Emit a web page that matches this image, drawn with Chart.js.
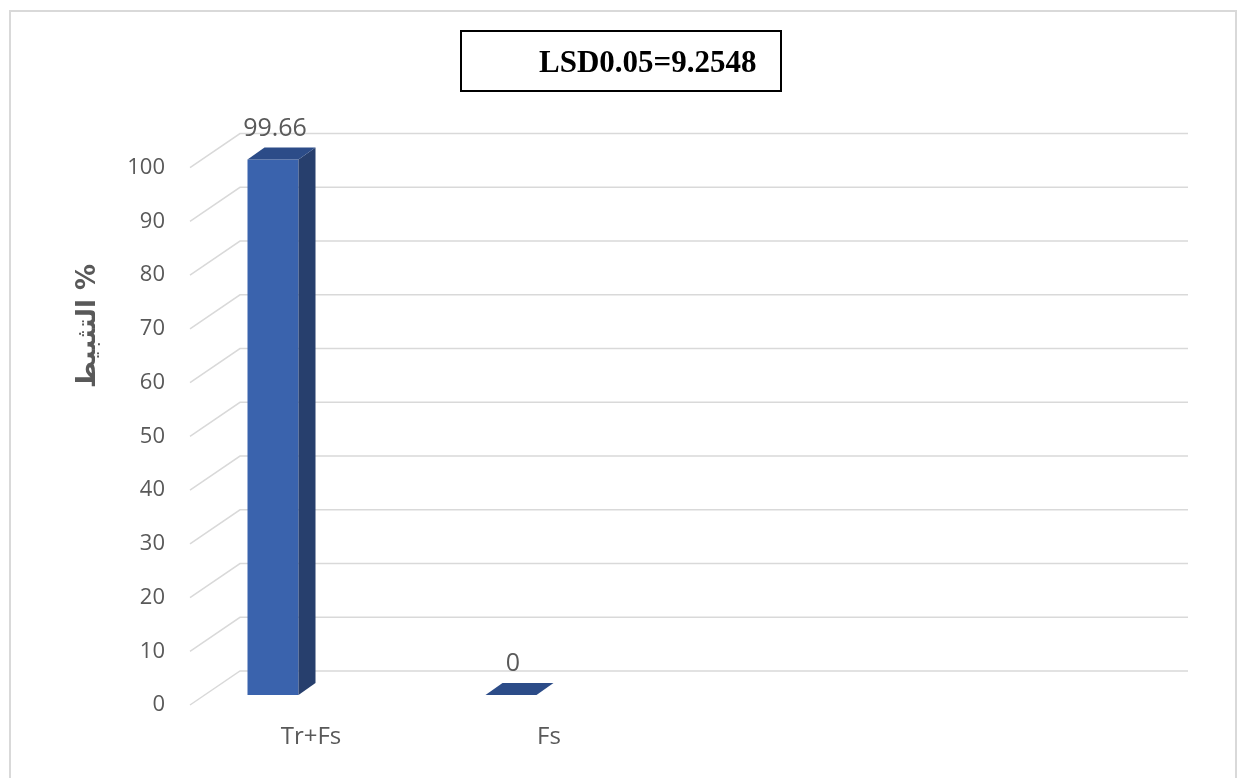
<!DOCTYPE html>
<html>
<head>
<meta charset="utf-8">
<script src="https://cdn.jsdelivr.net/npm/chart.js@4.4.1/dist/chart.umd.min.js"></script>
<style>
    html, body { margin: 0; padding: 0; background: #ffffff; }
    canvas { display: block; }
</style>
</head>
<body>
<canvas id="inhibitionChart" width="1239" height="778"></canvas>
<script>
// values
const categories = ['Tr+Fs', 'Fs', '', ''];
const inhibition = [99.66, 0, null, null];
const yTicks = [0, 10, 20, 30, 40, 50, 60, 70, 80, 90, 100];
const yTitle = 'التثبيط %';
const lsdText = 'LSD0.05=9.2548';

class InhibitionChart {

    static config = {
        textColor: '#595959',
        gridColor: '#d9d9d9',
        font: "'Open Sans', sans-serif",
        bar: {
            front: '#3a63ad',
            side: '#273f6d',
            top: '#2c4c88'
        },
        // 3D depth of the bars and of the wall behind them
        barDepth: { dx: 17, dy: 12 },
        wall: { frontX: 36, backX: 86, frontDy: 10, backDy: -24, rightX: 82 },
        // y labels sit a little inside the floor, past the axis box
        yLabelOverhang: 12
    };

    static init() {
        Chart.defaults.font.family = this.config.font;
        const canvas = document.getElementById('inhibitionChart');
        if (!canvas) return;
        this.render(canvas.getContext('2d'));
    }

    static render(ctx) {
        const cfg = this.config;

        new Chart(ctx, {
            type: 'bar',
            data: {
                labels: categories,
                datasets: [{
                    data: inhibition,
                    backgroundColor: cfg.bar.front,
                    borderWidth: 0,
                    categoryPercentage: 1,
                    barPercentage: 0.2143
                }]
            },
            options: {
                responsive: false,
                devicePixelRatio: 1,
                animation: false,
                layout: { padding: { top: 157.6, right: 133, bottom: 0, left: 0 } },
                plugins: {
                    legend: { display: false },
                    tooltip: { enabled: false }
                },
                scales: {
                    x: {
                        grid: { display: false, drawTicks: false },
                        border: { display: false },
                        ticks: {
                            color: cfg.textColor,
                            font: { size: 24 },
                            padding: 28,
                            labelOffset: 38,
                            maxRotation: 0
                        },
                        afterFit: (scale) => { scale.height = 83; }
                    },
                    y: {
                        min: 0,
                        max: 100,
                        afterBuildTicks: (scale) => {
                            scale.ticks = yTicks.map(v => ({ value: v }));
                        },
                        grid: { display: false, drawTicks: false },
                        border: { display: false },
                        ticks: {
                            color: cfg.textColor,
                            font: { size: 22 },
                            padding: 1,
                            labelOffset: 10
                        },
                        afterFit: (scale) => { scale.width = 154; }
                    }
                }
            },
            plugins: [this.framePlugin(), this.wallPlugin(), this.barFacesPlugin(), this.textPlugin()]
        });
    }

    static framePlugin() {
        return {
            id: 'frame',
            afterLayout: (chart) => {
                chart.scales.y.right += this.config.yLabelOverhang;
            },
            beforeDraw: (chart) => {
                const { ctx } = chart;
                ctx.save();
                ctx.fillStyle = '#ffffff';
                ctx.fillRect(0, 0, chart.width, chart.height);
                ctx.strokeStyle = '#d9d9d9';
                ctx.lineWidth = 2;
                ctx.strokeRect(10, 11, chart.width - 13, chart.height + 20);
                ctx.restore();
            }
        };
    }

    static wallPlugin() {
        const w = this.config.wall;
        return {
            id: 'wall',
            beforeDatasetsDraw: (chart) => {
                const { ctx, chartArea } = chart;
                const y = chart.scales.y;
                ctx.save();
                ctx.strokeStyle = this.config.gridColor;
                ctx.lineWidth = 1.5;
                yTicks.forEach(v => {
                    const py = y.getPixelForValue(v);
                    ctx.beginPath();
                    ctx.moveTo(chartArea.left + w.frontX, py + w.frontDy);
                    ctx.lineTo(chartArea.left + w.backX, py + w.backDy);
                    ctx.lineTo(chartArea.right + w.rightX, py + w.backDy);
                    ctx.stroke();
                });
                ctx.restore();
            }
        };
    }

    static barFacesPlugin() {
        const { dx, dy } = this.config.barDepth;
        const colors = this.config.bar;
        return {
            id: 'barFaces',
            afterDatasetsDraw: (chart) => {
                const { ctx } = chart;
                const meta = chart.getDatasetMeta(0);
                ctx.save();
                meta.data.forEach((bar, i) => {
                    if (inhibition[i] === null) return;
                    const { x, y, base, width } = bar.getProps(['x', 'y', 'base', 'width'], true);
                    const l = x - width / 2;
                    const r = x + width / 2;

                    // side face
                    if (base - y > 0.5) {
                        ctx.fillStyle = colors.side;
                        ctx.beginPath();
                        ctx.moveTo(r, y);
                        ctx.lineTo(r + dx, y - dy);
                        ctx.lineTo(r + dx, base - dy);
                        ctx.lineTo(r, base);
                        ctx.closePath();
                        ctx.fill();
                    }

                    // top face
                    ctx.fillStyle = colors.top;
                    ctx.beginPath();
                    ctx.moveTo(l, y);
                    ctx.lineTo(l + dx, y - dy);
                    ctx.lineTo(r + dx, y - dy);
                    ctx.lineTo(r, y);
                    ctx.closePath();
                    ctx.fill();
                });
                ctx.restore();
            }
        };
    }

    static textPlugin() {
        const cfg = this.config;
        return {
            id: 'texts',
            afterDraw: (chart) => {
                const { ctx } = chart;
                const meta = chart.getDatasetMeta(0);

                ctx.save();
                // value labels
                ctx.fillStyle = cfg.textColor;
                ctx.font = `25px ${cfg.font}`;
                ctx.textAlign = 'center';
                ctx.textBaseline = 'middle';
                meta.data.forEach((bar, i) => {
                    if (inhibition[i] === null) return;
                    ctx.fillText(String(inhibition[i]), bar.x + 2, bar.y - 31);
                });

                // axis title
                ctx.save();
                ctx.translate(88, 326);
                ctx.rotate(-Math.PI / 2);
                ctx.font = `bold 26px 'DejaVu Sans', sans-serif`;
                ctx.fillStyle = cfg.textColor;
                ctx.fillText(yTitle, 0, 0);
                ctx.restore();

                // LSD box
                ctx.strokeStyle = '#000000';
                ctx.lineWidth = 2;
                ctx.strokeRect(461, 31, 320, 60);
                ctx.fillStyle = '#000000';
                ctx.font = `bold 31px 'Liberation Serif', serif`;
                ctx.textAlign = 'left';
                ctx.textBaseline = 'alphabetic';
                ctx.fillText(lsdText, 539, 72);
                ctx.restore();
            }
        };
    }
}

document.addEventListener('DOMContentLoaded', () => InhibitionChart.init());
</script>
</body>
</html>
